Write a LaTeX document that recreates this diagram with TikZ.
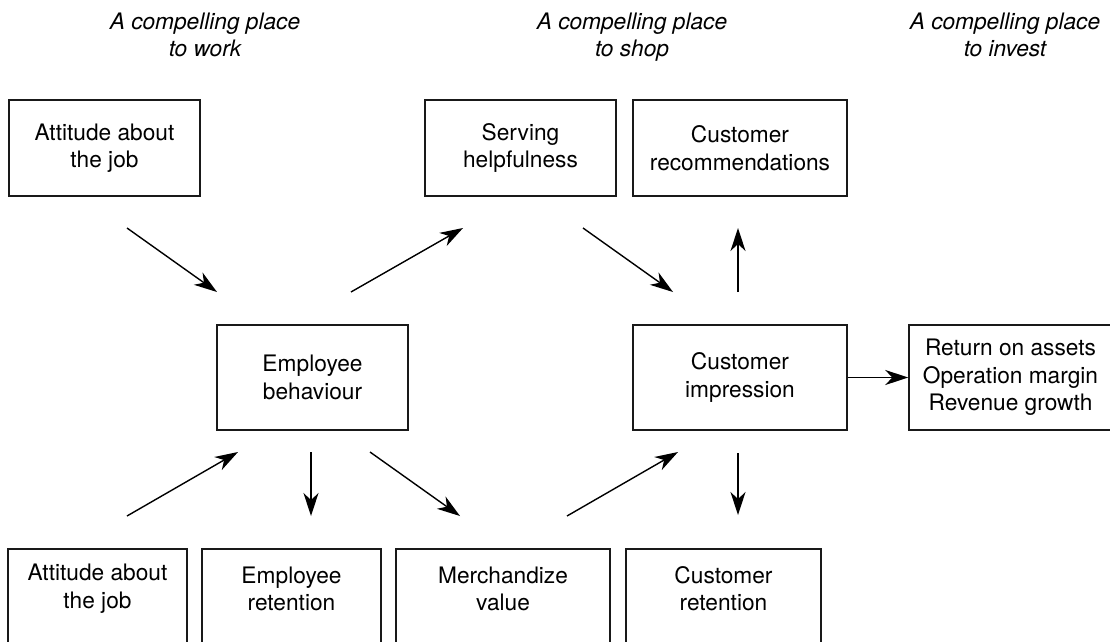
\documentclass[tikz,border=0pt]{standalone}
\usepackage{fontspec}
\setmainfont{TeX Gyre Heros}
\usetikzlibrary{arrows.meta}
\begin{document}
\begin{tikzpicture}[x=1pt,y=-1pt,
  every node/.style={font=\fontsize{22.7}{27.5}\selectfont, inner sep=0pt, align=center},
  box/.style={draw=black!90, line width=1.5pt, inner sep=0pt},
  title/.style={font=\fontsize{22.7}{27.5}\selectfont\itshape, anchor=north},
  arr/.style={line width=1.4pt, -{Stealth[length=23pt,width=15pt,inset=7pt]}}]
\useasboundingbox (0,0) rectangle (1110,641);
% titles
\node[title] (t1) at (205,12.5) {A compelling place\\to work};
\node[title] (t2) at (632,12.5) {A compelling place\\to shop};
\node[title] (t3) at (1005,12.5) {A compelling place\\to invest};
% top row
\node[box, minimum width=191pt, minimum height=96pt] (aj1) at (104.5,148) {Attitude about\\the job};
\node[box, minimum width=191pt, minimum height=96pt] (sh) at (520.5,148) {Serving\\helpfulness};
\node[box, minimum width=214pt, minimum height=96pt] (cr) at (740,148) {Customer\\recommendations};
% middle row
\node[box, minimum width=191pt, minimum height=105pt] (eb) at (312.5,377.5) {Employee\\behaviour};
\node[box, minimum width=214pt, minimum height=105pt] (ci) at (740,377.5) {Customer\\impression};
\node[box, minimum width=203pt, minimum height=105pt] (rb) at (1010.5,377.5) {Return on assets\\Operation margin\\Revenue growth};
% bottom row
\node[box, anchor=north, minimum width=179pt, minimum height=120pt,
  label={[yshift=20pt]center:{Attitude about\\the job}}] (aj2) at (97.5,548) {};
\node[box, anchor=north, minimum width=179pt, minimum height=120pt,
  label={[yshift=20pt]center:{Employee\\retention}}] (er) at (291.5,548) {};
\node[box, anchor=north, minimum width=214pt, minimum height=120pt,
  label={[yshift=20pt]center:{Merchandize\\value}}] (mv) at (503,548) {};
\node[box, anchor=north, minimum width=195pt, minimum height=120pt,
  label={[yshift=20pt]center:{Customer\\retention}}] (crt) at (723.5,548) {};
% arrow end points
\coordinate (a1s) at (127,228); \coordinate (a1e) at (217,292);
\coordinate (a2s) at (351,292); \coordinate (a2e) at (463,228);
\coordinate (a3s) at (583,228); \coordinate (a3e) at (673,292);
\coordinate (a4s) at (738,292); \coordinate (a4e) at (738,228);
\coordinate (a6s) at (127,516); \coordinate (a6e) at (238,452);
\coordinate (a7s) at (311,452); \coordinate (a7e) at (311,516);
\coordinate (a8s) at (370,452); \coordinate (a8e) at (460,516);
\coordinate (a9s) at (567,516); \coordinate (a9e) at (678,452);
\coordinate (a10s) at (738,453); \coordinate (a10e) at (738,515);
\draw[arr] (a1s) -- (a1e);
\draw[arr] (a2s) -- (a2e);
\draw[arr] (a3s) -- (a3e);
\draw[arr] (a4s) -- (a4e);
\draw[arr] (ci.east) -- (rb.west);
\draw[arr] (a6s) -- (a6e);
\draw[arr] (a7s) -- (a7e);
\draw[arr] (a8s) -- (a8e);
\draw[arr] (a9s) -- (a9e);
\draw[arr] (a10s) -- (a10e);
\end{tikzpicture}
\end{document}
